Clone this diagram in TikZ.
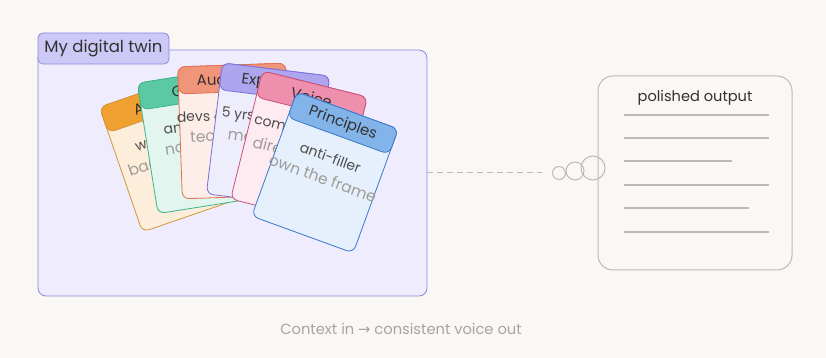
\documentclass[tikz,border=0pt]{standalone}
\usepackage{fontspec}
\setmainfont{Poppins}
\newfontfamily\symfont{DejaVu Sans}
\definecolor{bg}{HTML}{F9F8F5}
\definecolor{twinfill}{HTML}{EFEDFD}
\definecolor{twinline}{HTML}{8E86E0}
\definecolor{tabfill}{HTML}{CDC9F6}
\definecolor{grayline}{HTML}{BDBAB5}
\definecolor{captext}{HTML}{A8A5A0}
\definecolor{darktext}{HTML}{333031}
\definecolor{midtext}{HTML}{4F4C4A}
\definecolor{lighttext}{HTML}{A09C98}
% card colours
\definecolor{ohdr}{HTML}{F0A030}\definecolor{obody}{HTML}{FCEEDB}\definecolor{oline}{HTML}{D2963A}
\definecolor{ghdr}{HTML}{5CC9A5}\definecolor{gbody}{HTML}{E2F5EE}\definecolor{gline}{HTML}{3DB58C}
\definecolor{shdr}{HTML}{F0957A}\definecolor{sbody}{HTML}{FDEEEA}\definecolor{sline}{HTML}{E07050}
\definecolor{phdr}{HTML}{ADA6EE}\definecolor{pbody}{HTML}{EEEDFC}\definecolor{pline}{HTML}{7A70D8}
\definecolor{khdr}{HTML}{EE8FAE}\definecolor{kbody}{HTML}{FDEBF1}\definecolor{kline}{HTML}{C85078}
\definecolor{bhdr}{HTML}{82B4EA}\definecolor{bbody}{HTML}{E6F0FC}\definecolor{bline}{HTML}{3A78C8}
\tikzset{
  cardtitle/.style={font=\fontsize{15}{18}\selectfont, text=darktext, inner sep=0pt},
  cardline/.style={font=\fontsize{14}{17}\selectfont, text=midtext, inner sep=0pt},
  cardsub/.style={font=\fontsize{15.5}{19}\selectfont, text=lighttext, inner sep=0pt},
  outline/.style={draw=grayline, line width=1.4pt},
}
\newcommand\mkcard[7]{%
  \begin{scope}[shift={(#2,#3)},rotate=#4,transform shape]
    \draw[draw=#1line, fill=#1body, rounded corners=7pt, line width=0.8pt] (-54,-66) rectangle (54,66);
    \draw[draw=#1line, fill=#1hdr, rounded corners=7pt, line width=0.8pt] (-54,39) rectangle (54,66);
    \node[cardtitle] (#1t) at (0,52) {#5};
    \node[cardline] (#1a) at (0,16) {#6};
    \node[cardsub] (#1b) at (0,-6) {#7};
  \end{scope}}
\begin{document}
\begin{tikzpicture}[x=1pt,y=1pt]
  \fill[bg] (0,0) rectangle (826,358);
  \useasboundingbox (0,0) rectangle (826,358);
  % main box
  \node[draw=twinline, fill=twinfill, line width=0.8pt, rounded corners=8pt,
        minimum width=389pt, minimum height=246pt, inner sep=0pt] (twin) at (232.5,185) {};
  \node[draw=twinline, fill=tabfill, line width=0.8pt, rounded corners=5pt,
        minimum width=131pt, minimum height=31pt, inner sep=0pt,
        font=\fontsize{16.5}{19}\selectfont, text=darktext] (tab) at (103.5,309.5) {My digital twin};
  % cards
  \mkcard{o}{172}{206}{19}{About}{writer, PM}{background}
  \mkcard{g}{201}{218}{9}{Goals}{ambitious}{no jargon}
  \mkcard{s}{234}{227}{2}{Audience}{devs \& founders}{tech-savvy}
  \mkcard{p}{268}{223}{-7}{Expertise}{5 yrs shipping}{marketing}
  \mkcard{k}{299}{210}{-14}{Voice}{compact tone}{direct, calm}
  \mkcard{b}{325}{185.5}{-20}{Principles}{anti-filler}{own the frame}
  % connector
  \coordinate (dashend) at (542,185);
  \draw[grayline, line width=1pt, dash pattern=on 6pt off 4pt] (twin.east) -- (dashend);
  \node[circle, draw=grayline, line width=1pt, minimum size=13pt, inner sep=0pt] (c1) at (559,185) {};
  \node[circle, draw=grayline, line width=1pt, minimum size=18pt, inner sep=0pt] (c2) at (575,187) {};
  % output box
  \node[draw=grayline, fill=bg, line width=1pt, rounded corners=15pt,
        minimum width=194pt, minimum height=194pt, inner sep=0pt] (out) at (695,185) {};
  \node[circle, draw=grayline, line width=1pt, minimum size=24pt, inner sep=0pt] (c3) at (593,190) {};
  \node[font=\fontsize{14.6}{17}\selectfont, text=darktext, inner sep=0pt] (outtitle) at (695,260) {polished output};
  \draw[outline] (624,243) -- (769,243);
  \draw[outline] (624,220) -- (769,220);
  \draw[outline] (624,197) -- (732,197);
  \draw[outline] (624,173) -- (769,173);
  \draw[outline] (624,150) -- (749,150);
  \draw[outline] (624,126) -- (769,126);
  % caption
  \node[font=\fontsize{14.7}{17}\selectfont, text=captext, inner sep=0pt] (caption) at (401,29)
    {Context in {\symfont →} consistent voice out};
\end{tikzpicture}
\end{document}
